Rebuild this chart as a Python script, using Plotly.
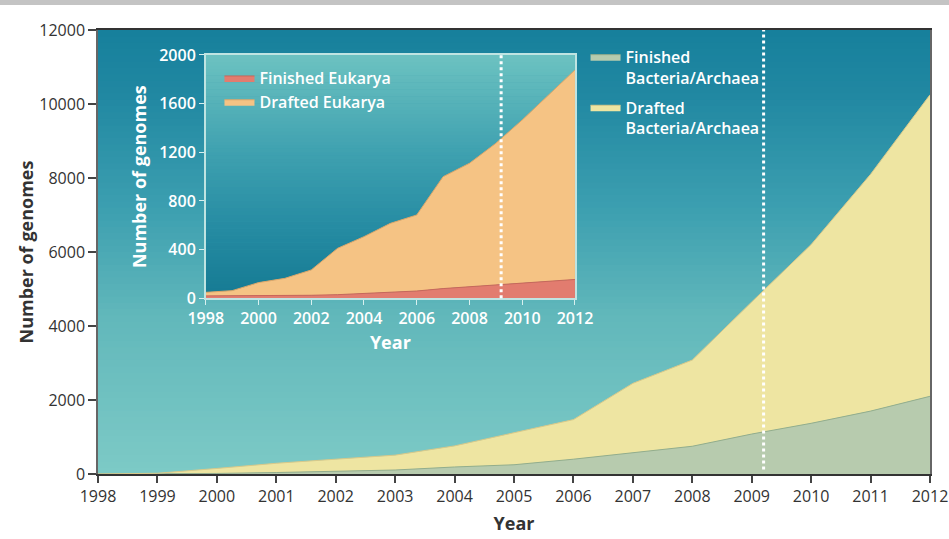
import plotly.graph_objects as go

# ---------------- data ----------------
years = list(range(1998, 2013))
finished_bacteria = [0, 2, 15, 40, 70, 108, 190, 250, 400, 570, 750, 1080, 1370, 1700, 2100]
drafted_bacteria = [0, 18, 135, 250, 330, 402, 570, 870, 1070, 1880, 2330, 3570, 4830, 6400, 8150]
finished_eukarya = [20, 20, 20, 22, 25, 30, 40, 55, 60, 80, 95, 105, 120, 140, 155]
drafted_eukarya = [29, 43, 109, 142, 208, 381, 467, 561, 625, 920, 1015, 1169, 1346, 1531, 1722]
main_year_ticks = list(range(1998, 2013))
inset_year_ticks = list(range(1998, 2013, 2))
main_y_ticks = list(range(0, 12001, 2000))
inset_y_ticks = list(range(0, 2001, 400))
cutoff_year = 2009.2

FONT = "Open Sans, Noto Sans, sans-serif"
W, H = 949, 539
ML, MR, MT, MB = 98, 19, 30, 65


def hex2rgb(h):
    h = h.lstrip("#")
    return tuple(int(h[i:i + 2], 16) for i in (0, 2, 4))


def grad(stops, t):
    for (t0, c0), (t1, c1) in zip(stops, stops[1:]):
        if t0 <= t <= t1:
            f = (t - t0) / (t1 - t0) if t1 > t0 else 0
            a, b = hex2rgb(c0), hex2rgb(c1)
            return "rgb(%d,%d,%d)" % tuple(round(a[i] + (b[i] - a[i]) * f) for i in range(3))
    return stops[-1][1]


shapes = []
N = 70
# main background gradient: t=0 bottom, t=1 top
main_stops = [(0.0, "#7dcac6"), (0.35, "#62b8bb"), (0.6, "#3c9fb0"), (0.85, "#2188a2"), (1.0, "#17809c")]
for i in range(N):
    t = (i + 0.5) / N
    shapes.append(dict(type="rect", xref="x domain", yref="y domain", x0=0, x1=1,
                       y0=i / N, y1=(i + 1) / N + 0.002, line=dict(width=0),
                       fillcolor=grad(main_stops, t), layer="below"))
# inset background gradient
inset_stops = [(0.0, "#157a93"), (0.3, "#268ca3"), (0.6, "#3fa1b0"), (1.0, "#6cc2c1")]
for i in range(N):
    t = (i + 0.5) / N
    shapes.append(dict(type="rect", xref="x2 domain", yref="y2 domain", x0=0, x1=1,
                       y0=i / N, y1=(i + 1) / N + 0.002, line=dict(width=0),
                       fillcolor=grad(inset_stops, t), layer="below"))

# dotted cutoff lines
shapes.append(dict(type="line", xref="x", yref="y domain", x0=cutoff_year, x1=cutoff_year,
                   y0=0.01, y1=1, line=dict(color="white", width=3, dash="dot"), layer="above"))
shapes.append(dict(type="line", xref="x2", yref="y2 domain", x0=cutoff_year, x1=cutoff_year,
                   y0=0.0, y1=1, line=dict(color="white", width=3, dash="dot"), layer="above"))
# grey band at the very top of the page
shapes.append(dict(type="rect", xref="paper", yref="paper",
                   x0=-ML / (W - ML - MR), x1=1 + MR / (W - ML - MR),
                   y0=(H - MB - 5) / (H - MT - MB), y1=(H - MB + 1) / (H - MT - MB),
                   line=dict(width=0), fillcolor="#c4c4c4", layer="above"))

fig = go.Figure()
fig.add_trace(go.Scatter(x=years, y=finished_bacteria, stackgroup="bact", mode="lines",
                         name="Finished<br>Bacteria/Archaea", fillcolor="#b7cbae",
                         line=dict(color="#93ad8c", width=1), legend="legend",
                         legendgroup="fb"))
fig.add_trace(go.Scatter(x=years, y=drafted_bacteria, stackgroup="bact", mode="lines",
                         name="Drafted<br>Bacteria/Archaea", fillcolor="#eee5a2",
                         line=dict(color="#d8c98a", width=1), legend="legend",
                         legendgroup="db"))
fig.add_trace(go.Scatter(x=years, y=finished_eukarya, stackgroup="euk", mode="lines",
                         name="Finished Eukarya", fillcolor="#e27c6f",
                         line=dict(color="#c9665a", width=1), legend="legend2",
                         xaxis="x2", yaxis="y2"))
fig.add_trace(go.Scatter(x=years, y=drafted_eukarya, stackgroup="euk", mode="lines",
                         name="Drafted Eukarya", fillcolor="#f5c384",
                         line=dict(color="#dba66a", width=1), legend="legend2",
                         xaxis="x2", yaxis="y2"))

dark = "#333333"
fig.update_layout(
    width=W, height=H, margin=dict(l=ML, r=MR, t=MT, b=MB, autoexpand=False),
    paper_bgcolor="white", plot_bgcolor="rgba(0,0,0,0)",
    font=dict(family=FONT, color=dark),
    shapes=shapes,
    hovermode=False,
    xaxis=dict(domain=[0, 1], range=[1998, 2012], tickvals=main_year_ticks,
               automargin=False,
               ticks="outside", ticklen=7, tickcolor="#444", tickwidth=1.5,
               showline=True, linecolor="#333", linewidth=1.5, mirror=True,
               showgrid=False, zeroline=False,
               tickfont=dict(size=16, color=dark, family=FONT),
               title=dict(text="Year", standoff=11,
                          font=dict(size=18, color=dark, family=FONT, weight="bold"))),
    yaxis=dict(domain=[0, 1], range=[0, 12000], tickvals=main_y_ticks, tickformat="d",
               automargin=False,
               ticks="outside", ticklen=8, tickcolor="#444", tickwidth=1.5,
               showline=True, linecolor="#666", linewidth=1.5, mirror=True,
               showgrid=False, zeroline=False,
               tickfont=dict(size=16, color=dark, family=FONT),
               title=dict(text="Number of genomes", standoff=1,
                          font=dict(size=18, color=dark, family=FONT, weight="bold"))),
    xaxis2=dict(domain=[0.1295, 0.5733], anchor="y2", range=[1998, 2012],
                automargin=False,
                tickvals=inset_year_ticks, ticks="outside", ticklen=5,
                tickcolor="#d8f0ef", showline=True, linecolor="#bfe4e2", linewidth=1.5,
                mirror=True, showgrid=False, zeroline=False,
                tickfont=dict(size=16, color="white", family=FONT, weight=600),
                title=dict(text="Year", standoff=8,
                           font=dict(size=18, color="white", family=FONT, weight="bold"))),
    yaxis2=dict(domain=[0.3957, 0.9437], anchor="x2", range=[0, 2000],
                automargin=False,
                tickvals=inset_y_ticks, ticks="outside", ticklen=5,
                tickcolor="#d8f0ef", showline=True, linecolor="#bfe4e2", linewidth=1.5,
                mirror=True, showgrid=False, zeroline=False,
                tickfont=dict(size=16, color="white", family=FONT, weight=600),
                title=dict(text="Number of genomes", standoff=8,
                           font=dict(size=18, color="white", family=FONT, weight="bold"))),
    legend=dict(x=0.586, y=0.978, xanchor="left", yanchor="top", traceorder="grouped",
                bgcolor="rgba(0,0,0,0)", valign="top", tracegroupgap=6,
                font=dict(size=16, color="white", family=FONT, weight=600)),
    legend2=dict(x=0.146, y=0.93, xanchor="left", yanchor="top", traceorder="normal",
                 bgcolor="rgba(0,0,0,0)", valign="middle",
                 font=dict(size=16, color="white", family=FONT, weight=600)),
)

fig.write_html("out.html")
